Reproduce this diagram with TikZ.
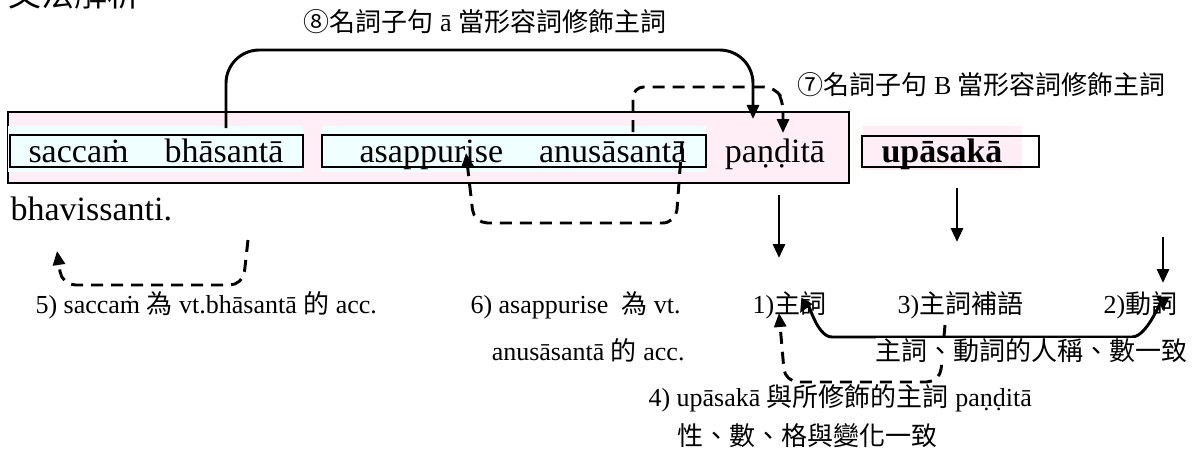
\documentclass[tikz,border=0pt]{standalone}
\usepackage{fontspec}
\setmainfont{Liberation Serif}
\newfontfamily\cjk{Noto Sans CJK TC}
\usetikzlibrary{arrows.meta}

\definecolor{boxpink}{RGB}{255,238,245}
\definecolor{boxcyan}{RGB}{240,255,255}

\tikzset{every picture/.style={line width=0.75pt}}
\tikzset{
  word/.style={font=\fontsize{25.5}{30}\selectfont, inner sep=0pt},
  note/.style={font=\fontsize{19.5}{23}\selectfont, inner sep=0pt},
  headtip/.tip={Triangle[length=10.5pt,width=9pt]},
  solidarr/.style={line width=2.2, -headtip},
  dasharr/.style={solidarr, dash pattern=on 9pt off 6pt},
}

\begin{document}
\begin{tikzpicture}[x=0.75pt,y=0.75pt,yscale=-1,xscale=1]
\useasboundingbox (0,0) rectangle (1203,453);

% Title (cut at the top)
\node [note, font=\fontsize{24.75}{28}\selectfont, anchor=base west] (title) at (8,7) {\cjk 文法解析};

%Rectangle: sentence frame
\draw [fill=boxpink, line width=1.5] (8,112) rectangle (849,183);
%Rectangle: clause A
\fill [boxcyan] (8,126) rectangle (303,172);
\draw [fill=boxcyan, line width=1.5] (10,135) rectangle (303,167);
%Rectangle: clause B
\fill [boxcyan] (322,126) rectangle (706,172);
\draw [fill=boxcyan, line width=1.5] (322,135) rectangle (706,167);
%Rectangle: complement
\fill [boxpink] (863,126) rectangle (1022,170);
\draw [line width=1.5] (862,136) rectangle (1039,167);

% Text Node
\node [word, anchor=base] (clauseA) at (156,162) {saccaṁ\hspace{27pt}bhāsantā};
% Text Node
\node [word, anchor=base] (clauseB) at (523,162) {asappurise\hspace{27pt}anusāsantā};
% Text Node
\node [word, anchor=base] (pandita) at (775,162) {paṇḍitā};
% Text Node
\node [word, anchor=base] (upasaka) at (942,162) {\bfseries upāsakā};
% Text Node
\node [word, anchor=base west] (verb) at (10,220) {bhavissanti.};

% Text Node
\node [note, anchor=base west] (lbl8) at (303,32) {{\cjk ⑧名詞子句} ā {\cjk 當形容詞修飾主詞}};
% Text Node
\node [note, anchor=base west] (lbl7) at (797,94) {{\cjk ⑦名詞子句} B {\cjk 當形容詞修飾主詞}};
% Text Node
\node [note, anchor=base west] (lbl5) at (35,313) {5) saccaṁ {\cjk 為} vt.bhāsantā {\cjk 的} acc.};
% Text Node
\node [note, anchor=base west] (lbl6a) at (470,313) {6) asappurise\ \ {\cjk 為} vt.};
% Text Node
\node [note, anchor=base east] (lbl6b) at (685,360) {anusāsantā {\cjk 的} acc.};
% Text Node
\node [note, anchor=base west] (subj) at (752,313) {1){\cjk 主詞}};
% Text Node
\node [note, anchor=base west] (compl) at (897,313) {3){\cjk 主詞補語}};
% Text Node
\node [note, anchor=base west] (pred) at (1103,313) {2){\cjk 動詞}};

% end points of the connectors
\coordinate (s8) at (226,128);
\coordinate (t8) at (0,50);
\coordinate (p8) at (753,119);
\coordinate (s7) at (633,132);
\coordinate (t7) at (0,87);
\coordinate (p7) at (783,133);
\coordinate (s6) at (682,142);
\coordinate (p6) at (466,153);
\coordinate (s5) at (248,240);
\coordinate (p5) at (57,251);
\coordinate (s4) at (945,325);
\coordinate (p4) at (779,313);
\coordinate (pa) at (779,195);
\coordinate (pb) at (779,258);
\coordinate (ua) at (957,188);
\coordinate (ub) at (957,242);
\coordinate (va) at (1163,237);
\coordinate (vb) at (1163,283);
\coordinate (l12) at (800,313);
\coordinate (r12) at (1163,311);

%Curve Lines
\draw [solidarr, rounded corners=25] (s8) -- (s8 |- t8) -| (p8);
%Curve Lines
\draw [dasharr, rounded corners=8] (s7) -- (s7 |- t7) -- (775,87) -- (783,100) -- (p7);
%Curve Lines
\draw [dasharr, rounded corners=10] (s6) -- (676,223) -- (474,223) -- (p6);
%Curve Lines
\draw [dasharr, rounded corners=10] (s5) -- (243,285) -- (62,285) -- (p5);
%Curve Lines
\draw [dasharr, rounded corners=10] (s4) -- (940,382) -- (785,382) -- (p4);

%Straight Lines
\draw [solidarr] (pa) -- (pb);
\draw [solidarr] (ua) -- (ub);
\draw [solidarr] (va) -- (vb);
%Curve Lines
\draw [solidarr, headtip-headtip] (l12) to[out=-60,in=180] (832,337) -- (1132,337) to[out=0,in=-90] (r12);

% Text Node
\node [note, anchor=base west, fill=white, inner xsep=0pt] (agree) at (875,360) {\cjk 主詞、動詞的人稱、數一致};
% Text Node
\node [note, anchor=base west] (lbl4a) at (648,406) {4) upāsakā {\cjk 與所修飾的主詞} paṇḍitā};
% Text Node
\node [note, anchor=base west] (lbl4b) at (677,445) {\cjk 性、數、格與變化一致};

\end{tikzpicture}
\end{document}
